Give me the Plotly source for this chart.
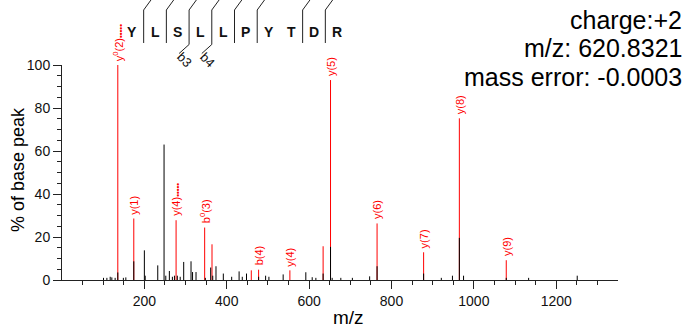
import plotly.graph_objects as go

# ---------------- data ----------------
# annotated (matched) peaks
match_mz = [135.5, 174.3, 277.0, 346.4, 364.2, 459.6, 477.4, 553.3, 634.0, 652.0, 765.0, 878.0, 964.8, 1078.7]
match_int = [100.0, 28.6, 27.8, 24.4, 16.6, 4.5, 4.8, 4.5, 15.7, 93.0, 26.3, 12.9, 75.2, 9.2]
DOTS = "<span style='font-size:8px'>•••••</span>"
match_lab = ["y<sup>0</sup>(2)" + DOTS, "y(1)", "y(4)" + DOTS, "b<sup>0</sup>(3)", "", "", "b(4)", "y(4)", "",
             "y(5)", "y(6)", "y(7)", "y(8)", "y(9)"]

# other (unmatched) peaks
peak_mz = [100.8, 109.0, 117.0, 121.0, 129.0, 135.5, 149.0, 155.0, 174.3, 200.0, 202.0, 232.5, 247.8, 252.0,
           260.7, 268.0, 273.0, 280.0, 287.0, 295.5, 313.3, 317.0, 325.4, 348.0, 361.0, 366.0, 373.9, 391.7,
           412.0, 430.0, 437.7, 448.0, 477.4, 494.4, 502.4, 537.0, 592.0, 607.5, 616.4, 634.0, 652.0, 656.0,
           677.0, 705.0, 747.0, 765.0, 878.0, 921.0, 948.0, 964.8, 975.0, 1078.7, 1133.0, 1251.0]
peak_int = [1.0, 1.0, 1.5, 1.2, 1.0, 3.5, 1.0, 1.2, 8.7, 13.8, 2.0, 6.8, 63.0, 2.0,
            4.2, 1.5, 2.0, 2.0, 1.5, 8.4, 8.7, 3.7, 3.7, 1.0, 5.8, 2.0, 6.4, 3.0,
            1.5, 4.0, 1.5, 3.0, 1.5, 2.0, 1.5, 2.6, 3.6, 1.3, 1.0, 3.0, 15.4, 1.0,
            1.0, 1.0, 1.7, 6.4, 3.0, 1.0, 2.0, 19.6, 2.0, 1.0, 1.0, 2.0]

# peptide sequence and fragment coverage
sequence = list("YLSLLPYTDR")
y_ions = [1, 2, 4, 5, 6, 7, 8, 9]
b_ions = [3, 4]

info_lines = ["charge:+2", "m/z: 620.8321", "mass error: -0.0003"]

x_major = [200, 400, 600, 800, 1000, 1200]
x_minor = [v for v in range(50, 1350, 50) if v % 200]

FONT = "Arial, Liberation Sans, sans-serif"
RED = "#ff0000"

def sticks(xs, ys):
    X, Y = [], []
    for a, b in zip(xs, ys):
        X += [a, a, None]
        Y += [0, b, None]
    return X, Y

fig = go.Figure()
rx, ry = sticks(match_mz, match_int)
fig.add_trace(go.Scatter(x=rx, y=ry, mode="lines", line=dict(color=RED, width=1),
                         hoverinfo="skip", showlegend=False))
bx, by = sticks(peak_mz, peak_int)
fig.add_trace(go.Scatter(x=bx, y=by, mode="lines", line=dict(color="#000000", width=1),
                         hoverinfo="skip", showlegend=False))

# peak labels
for mz, it, lab in zip(match_mz, match_int, match_lab):
    if lab:
        fig.add_annotation(x=mz, y=it, xref="x", yref="y", text=lab, showarrow=False,
                           textangle=-90, yanchor="bottom", xanchor="center", yshift=2,
                           font=dict(family=FONT, size=11, color=RED))

# ---- sequence drawn on an auxiliary x axis (residue index units) ----
L_PX, W_PX, T_PX, B_PX = 62, 556, 65, 280
H_PX = B_PX - T_PX
res_px0, res_step = 132.3, 22.71
a = -(res_px0 - L_PX) / res_step
x2_range = [a, a + W_PX / res_step]

def py(p):
    return (B_PX - p) / H_PX

n = len(sequence)
for i, aa in enumerate(sequence):
    fig.add_annotation(x=i, y=py(32), xref="x2", yref="paper", text="<b>%s</b>" % aa,
                       showarrow=False, xanchor="center", yanchor="middle",
                       font=dict(family=FONT, size=14, color="#111111"))

shapes = []
for k in y_ions:
    xb = (n - k) - 0.5
    shapes.append(dict(type="path", xref="x2", yref="paper",
                       path="M %f,%f L %f,%f L %f,%f" % (xb, py(43), xb, py(10), xb + 0.45, py(-4)),
                       line=dict(color="#222222", width=1)))
for k in b_ions:
    xb = k - 0.5
    shapes.append(dict(type="path", xref="x2", yref="paper",
                       path="M %f,%f L %f,%f L %f,%f" % (xb, py(43), xb, py(44.5), xb - 0.44, py(53.5)),
                       line=dict(color="#222222", width=1)))
    fig.add_annotation(x=xb - 0.22, y=py(60), xref="x2", yref="paper", text="b%d" % k,
                       showarrow=False, textangle=45, xanchor="center", yanchor="middle",
                       font=dict(family=FONT, size=13, color="#111111"))

# right-hand info text
for j, t in enumerate(info_lines):
    fig.add_annotation(x=(684 - L_PX) / W_PX, y=py([20, 48.5, 77][j]), xref="paper", yref="paper",
                       text=t, showarrow=False, xanchor="right", yanchor="middle",
                       font=dict(family=FONT, size=25, color="#000000"))

# axis titles
fig.add_annotation(x=(18 - L_PX) / W_PX, y=py(170), xref="paper", yref="paper", text="% of base peak",
                   showarrow=False, textangle=-90, xanchor="center", yanchor="middle",
                   font=dict(family=FONT, size=18, color="#000000"))
fig.add_annotation(x=(348 - L_PX) / W_PX, y=py(317), xref="paper", yref="paper", text="m/z",
                   showarrow=False, xanchor="center", yanchor="middle",
                   font=dict(family=FONT, size=19, color="#000000"))

fig.update_layout(
    width=690, height=331,
    margin=dict(l=L_PX, r=690 - L_PX - W_PX, t=T_PX, b=331 - B_PX),
    paper_bgcolor="white", plot_bgcolor="white",
    shapes=shapes,
    xaxis=dict(range=[0, 1350], tickvals=x_major, ticks="outside", ticklen=8, tickcolor="#222222",
               showline=True, linecolor="#222222", linewidth=1, showgrid=False, zeroline=False,
               tickfont=dict(family=FONT, size=14, color="#111111"),
               minor=dict(tickvals=x_minor, ticks="outside", ticklen=4, tickcolor="#222222", showgrid=False)),
    xaxis2=dict(range=x2_range, overlaying="x", visible=False, showgrid=False, zeroline=False),
    yaxis=dict(range=[0, 100], tickvals=[0, 20, 40, 60, 80, 100], ticks="outside", ticklen=8,
               tickcolor="#222222", showline=True, linecolor="#222222", linewidth=1, showgrid=False,
               zeroline=False, tickfont=dict(family=FONT, size=14, color="#111111"),
               minor=dict(dtick=5, ticks="outside", ticklen=4, tickcolor="#222222", showgrid=False)),
)

fig.write_html("out.html")
